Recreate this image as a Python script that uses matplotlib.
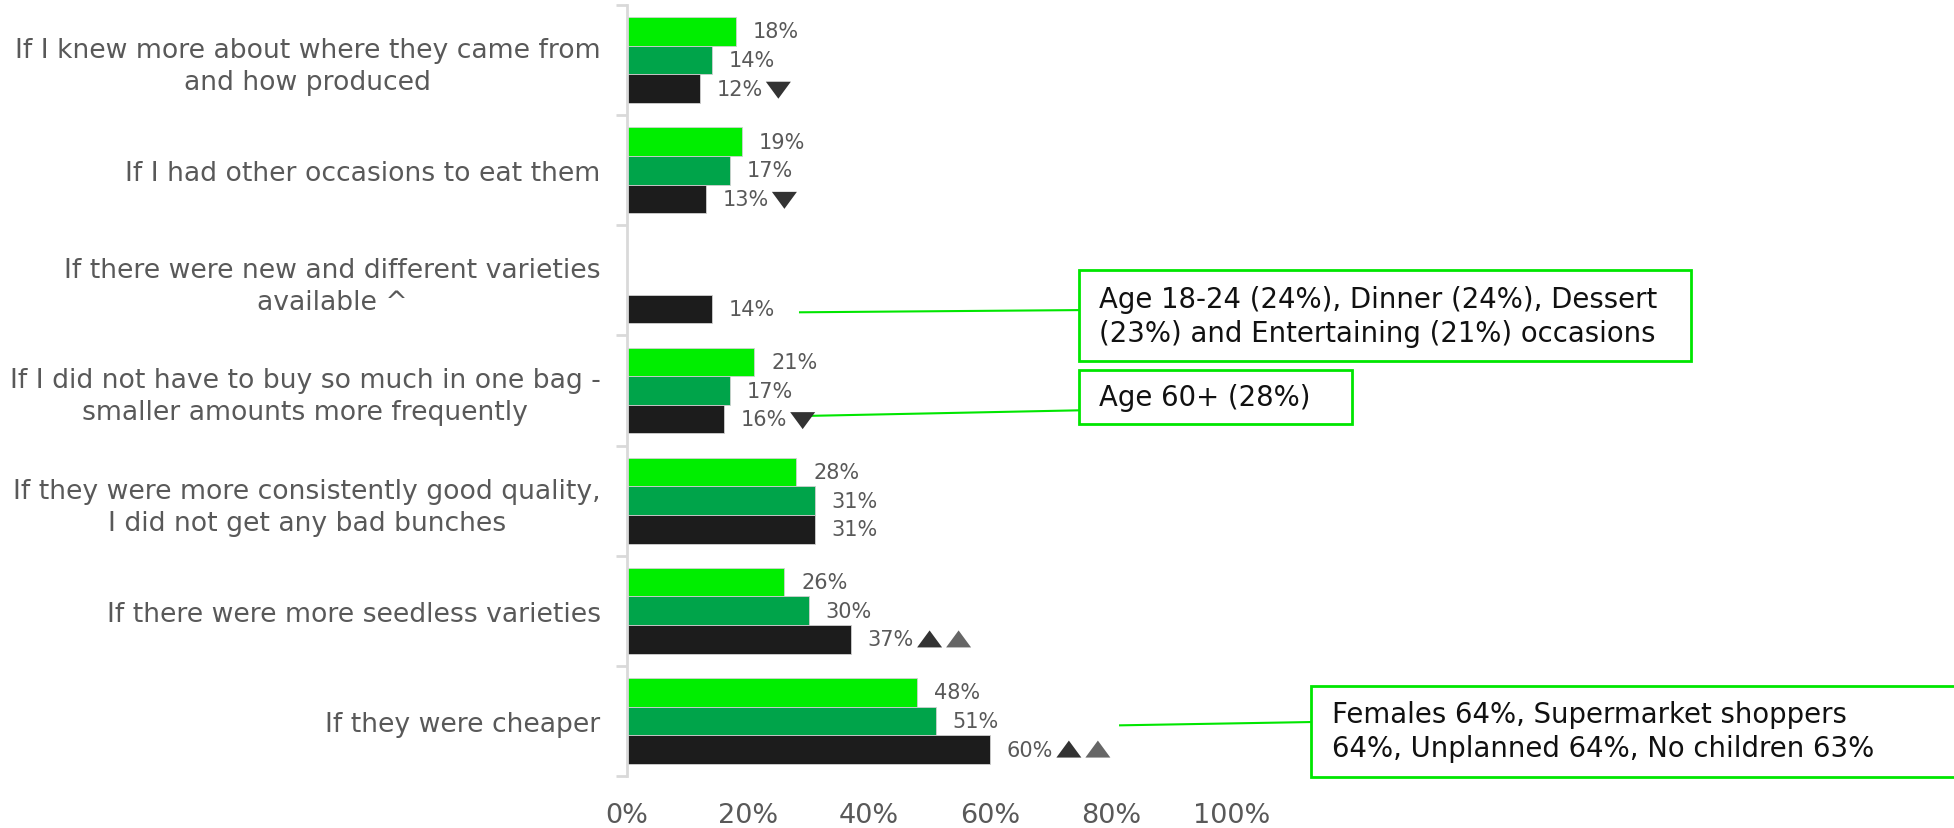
import matplotlib
matplotlib.use("Agg")
import matplotlib.pyplot as plt
from matplotlib.patches import Rectangle, Polygon
from matplotlib.transforms import IdentityTransform

plt.rcParams['font.family'] = ['DejaVu Sans']

categories = [
    "If I knew more about where they came from\nand how produced",
    "If I had other occasions to eat them",
    "If there were new and different varieties\navailable ^",
    "If I did not have to buy so much in one bag -\nsmaller amounts more frequently",
    "If they were more consistently good quality,\nI did not get any bad bunches",
    "If there were more seedless varieties",
    "If they were cheaper",
]
series_light = [18, 19, None, 21, 28, 26, 48]
series_mid = [14, 17, None, 17, 31, 30, 51]
series_dark = [12, 13, 14, 16, 31, 37, 60]
# significance arrows shown after the dark-series labels
sig_marks = [["down"], ["down"], [], ["down"], [], ["up", "up_grey"], ["up", "up_grey"]]
x_ticks = [0, 20, 40, 60, 80, 100]
x_tick_labels = ["0%", "20%", "40%", "60%", "80%", "100%"]

callouts = [
    "Age 18-24 (24%), Dinner (24%), Dessert\n(23%) and Entertaining (21%) occasions",
    "Age 60+ (28%)",
    "Females 64%, Supermarket shoppers\n64%, Unplanned 64%, No children 63%",
]

colors = ["#00EE00", "#00A44A", "#1C1C1C"]
label_color = "#595959"
callout_green = "#00E600"

W, H = 1954, 829
AX_LEFT, AX_TOP, AX_BOTTOM = 627, 6, 777
fig = plt.figure(figsize=(W / 100, H / 100), dpi=100)
ax = fig.add_axes([AX_LEFT / W, (H - AX_BOTTOM) / H, (W - AX_LEFT) / W, (AX_BOTTOM - AX_TOP) / H])

bar_h = 0.26
offsets = [-bar_h, 0, bar_h]
value_texts = {}
for s, (vals, col, off) in enumerate(zip([series_light, series_mid, series_dark], colors, offsets)):
    for i, v in enumerate(vals):
        if v is None:
            continue
        y = i + off
        ax.barh(y, v, height=bar_h, color=col, edgecolor="#d0d0d0", linewidth=0.6)
        t = ax.annotate(f"{v}%", xy=(v, y), xytext=(17, 0), textcoords="offset pixels",
                        ha="left", va="center", fontsize=15, color=label_color)
        if s == 2:
            value_texts[i] = t

ax.set_xlim(0, (W - AX_LEFT) / 6.05)
ax.set_ylim(6.5, -0.5)

ax.set_yticks(range(len(categories)))
ax.set_yticklabels(categories, fontsize=19.2, color=label_color, multialignment="center",
                   linespacing=1.3)
ax.set_yticks([k - 0.5 for k in range(len(categories) + 1)], minor=True)
ax.tick_params(axis="y", which="major", length=0, pad=19)
ax.tick_params(axis="y", which="minor", length=8, width=2, color="#d9d9d9", direction="out")

ax.set_xticks(x_ticks)
ax.set_xticklabels(x_tick_labels, fontsize=19.5, color=label_color)
ax.tick_params(axis="x", length=0, pad=19)

for side in ["top", "right", "bottom"]:
    ax.spines[side].set_visible(False)
ax.spines["left"].set_color("#d9d9d9")
ax.spines["left"].set_linewidth(2)

# callout boxes and connector lines (data coordinates)
boxes = [
    (74.7, 1.91, 101.2, 0.826, 78.0),
    (74.7, 2.81, 45.1, 0.49, 78.0),
    (113.1, 5.68, 120.0, 0.826, 116.5),
]
links = [
    ((28.6, 2.29), (74.7, 2.27)),
    ((30.4, 3.23), (74.7, 3.18)),
    ((81.5, 6.04), (113.1, 6.01)),
]
for (x0, y0, w, h, tx), txt in zip(boxes, callouts):
    ax.add_patch(Rectangle((x0, y0), w, h, facecolor="white", edgecolor=callout_green,
                           linewidth=2, clip_on=False, zorder=3))
    ax.text(tx, y0 + h / 2, txt, ha="left", va="center", fontsize=19.8, color="#111111",
            linespacing=1.25, zorder=4)
for (p0, p1) in links:
    ax.plot([p0[0], p1[0]], [p0[1], p1[1]], color=callout_green, lw=1.5, clip_on=False, zorder=2)

# significance triangles placed just right of the dark labels
fig.canvas.draw()
renderer = fig.canvas.get_renderer()
tri_w, tri_h = 25, 17
for i, marks in enumerate(sig_marks):
    if not marks:
        continue
    bb = value_texts[i].get_window_extent(renderer)
    cy = (bb.y0 + bb.y1) / 2
    x = bb.x1 + 3
    for m in marks:
        if m == "down":
            pts = [(x, cy + 7), (x + tri_w, cy + 7), (x + tri_w / 2, cy - 10)]
            c = "#333333"
        else:
            pts = [(x, cy - 8), (x + tri_w, cy - 8), (x + tri_w / 2, cy + 9)]
            c = "#333333" if m == "up" else "#666666"
        fig.add_artist(Polygon(pts, closed=True, facecolor=c, edgecolor="none",
                               transform=IdentityTransform()))
        x += tri_w + 4

fig.savefig("out.png", dpi=100)
